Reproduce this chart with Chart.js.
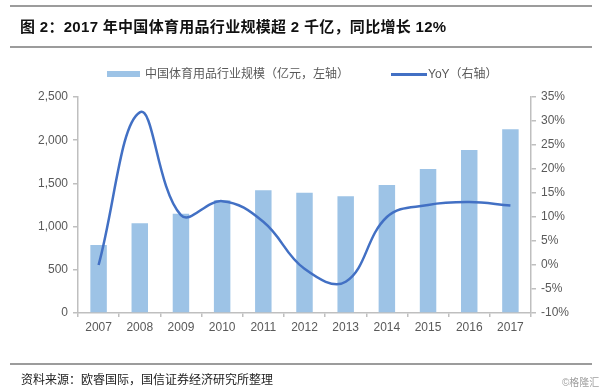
<!DOCTYPE html>
<html>
<head>
<meta charset="utf-8">
<title>2017 年中国体育用品行业规模</title>
<script src="https://cdn.jsdelivr.net/npm/chart.js@4.4.1/dist/chart.umd.min.js"></script>
<style>
  body { margin: 0; background: #fff; }
  #wrap {
    position: relative; width: 600px; height: 388px; overflow: hidden;
    font-family: "Liberation Sans", Arial, "Noto Sans CJK SC", sans-serif;
  }
  #chart { position: absolute; left: 0; top: 0; }
  .rule { position: absolute; left: 10px; width: 582px; height: 2px; background: #9c9c9c; }
  #title {
    position: absolute; left: 20px; top: 17px; line-height: 20px; letter-spacing: 0.3px;
    font-size: 15px; font-weight: bold; color: #111; white-space: nowrap;
  }
  .sw { position: absolute; }
  .lg {
    position: absolute; top: 66px; line-height: 16px; font-size: 12px;
    color: #595959; white-space: nowrap;
  }
  #source {
    position: absolute; left: 21px; top: 372px; line-height: 16px;
    font-size: 12px; color: #222; white-space: nowrap;
  }
  #mark {
    position: absolute; left: 562px; top: 377px; line-height: 12px;
    font-size: 10px; color: #a0a0a0; white-space: nowrap;
  }
</style>
</head>
<body>
<div id="wrap">
  <canvas id="chart" width="600" height="388"></canvas>
  <div class="rule" style="top:5px"></div>
  <div id="title">图 2：2017 年中国体育用品行业规模超 2 千亿，同比增长 12%</div>
  <div class="rule" style="top:46px"></div>

  <div class="sw" style="left:107px;top:71px;width:33px;height:6px;background:#9dc3e6"></div>
  <div class="lg" style="left:145px">中国体育用品行业规模（亿元，左轴）</div>
  <div class="sw" style="left:391px;top:73px;width:36px;height:3px;background:#4270c4"></div>
  <div class="lg" style="left:428px">YoY（右轴）</div>

  <div class="rule" style="top:363px"></div>
  <div id="source">资料来源：欧睿国际，国信证券经济研究所整理</div>
  <div id="mark">©格隆汇</div>
</div>
<script>
// data
const years = ['2007', '2008', '2009', '2010', '2011', '2012', '2013', '2014', '2015', '2016', '2017'];
const industrySize = [787, 1038, 1149, 1304, 1420, 1393, 1350, 1481, 1667, 1887, 2126]; // 亿元
const yoy = [0, 31.8, 10.4, 13.3, 9.0, -0.8, -3.5, 10.0, 12.5, 13.1, 12.4]; // %

const sizeLabel = '中国体育用品行业规模（亿元，左轴）';
const yoyLabel = 'YoY（右轴）';

const axisGrey = '#bfbfbf';
const tickFont = { family: '"Liberation Sans", Arial, sans-serif', size: 12 };

const axisGrid = {
  drawOnChartArea: false,
  drawTicks: true,
  tickLength: 5,
  color: axisGrey,
  lineWidth: 1.5,
};
const axisBorder = { color: axisGrey, width: 1.5 };

new Chart(document.getElementById('chart'), {
  type: 'bar',
  data: {
    labels: years,
    datasets: [
      {
        type: 'line',
        label: yoyLabel,
        data: yoy,
        yAxisID: 'y1',
        borderColor: '#4270c4',
        borderWidth: 2.5,
        tension: 0.4,
        pointRadius: 0,
        fill: false,
        order: 0,
      },
      {
        type: 'bar',
        label: sizeLabel,
        data: industrySize,
        yAxisID: 'y',
        backgroundColor: '#9dc3e6',
        barPercentage: 0.4,
        categoryPercentage: 1.0,
        order: 1,
      },
    ],
  },
  options: {
    responsive: false,
    animation: false,
    layout: { padding: { top: 97, left: 0, right: 0, bottom: 0 } },
    plugins: {
      legend: { display: false },
      tooltip: { enabled: false },
    },
    scales: {
      x: {
        offset: true,
        grid: { ...axisGrid, offset: true, tickLength: 4 },
        border: axisBorder,
        ticks: { color: '#595959', font: tickFont, padding: 3, maxRotation: 0 },
        afterFit: (scale) => { scale.height = 75; },
      },
      y: {
        position: 'left',
        min: 0,
        max: 2500,
        grid: axisGrid,
        border: axisBorder,
        ticks: {
          stepSize: 500,
          color: '#595959',
          font: tickFont,
          padding: 5,
          callback: (v) => v.toLocaleString('en-US'),
        },
        afterFit: (scale) => { scale.width = 78; },
      },
      y1: {
        position: 'right',
        min: -10,
        max: 35,
        grid: axisGrid,
        border: axisBorder,
        ticks: {
          stepSize: 5,
          color: '#595959',
          font: tickFont,
          padding: 5,
          callback: (v) => v + '%',
        },
        afterFit: (scale) => { scale.width = 69; },
      },
    },
  },
});
</script>
</body>
</html>
